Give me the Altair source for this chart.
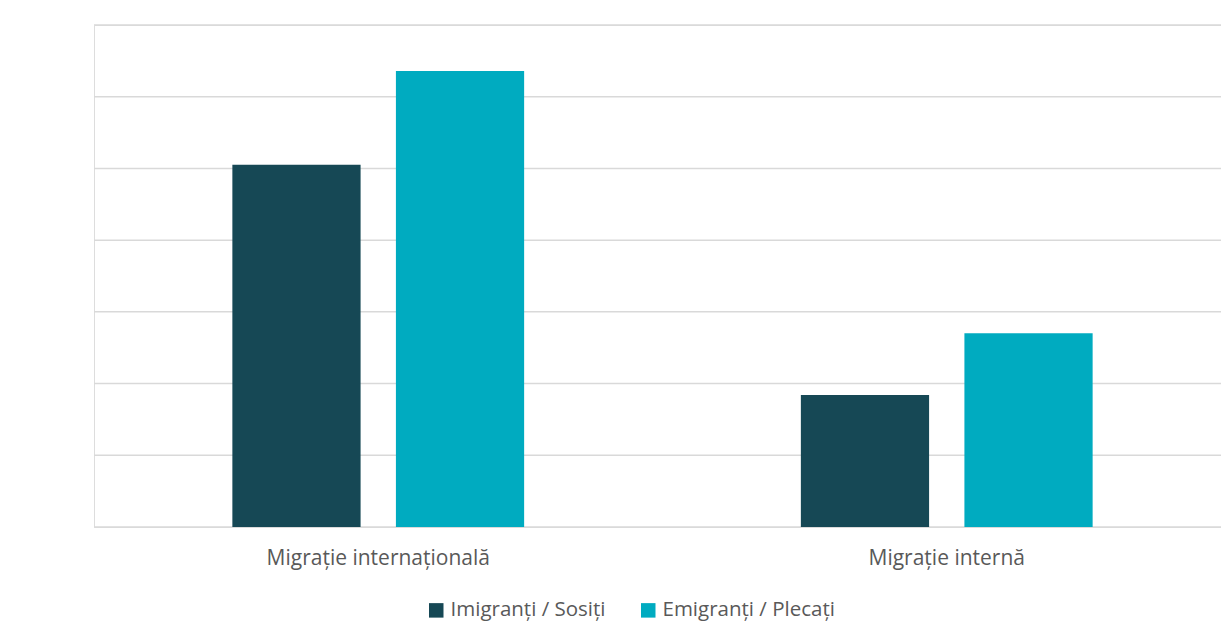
import altair as alt
import pandas as pd

# Migration flows by type
categories = ["Migrație internațională", "Migrație internă"]
series = ["Imigranți / Sosiți", "Emigranți / Plecați"]
imigranti = [25250, 9200]
emigranti = [31800, 13500]
y_ticks = [0, 5000, 10000, 15000, 20000, 25000, 30000, 35000]
colors = ["#164855", "#00ABC0"]

rows = []
for i, cat in enumerate(categories):
    rows.append({"Categorie": cat, "Serie": series[0], "Valoare": imigranti[i]})
    rows.append({"Categorie": cat, "Serie": series[1], "Valoare": emigranti[i]})
df = pd.DataFrame(rows)
grid_df = pd.DataFrame({"Valoare": y_ticks})

FONT = "Open Sans"
GREY = "#595959"

y_scale = alt.Scale(domain=[0, 35000])

# horizontal gridlines at each y tick
grid = (
    alt.Chart(grid_df)
    .mark_rule(color="#D9D9D9", strokeWidth=1.5)
    .encode(y=alt.Y("Valoare:Q", scale=y_scale, axis=None))
)

bars = (
    alt.Chart(df)
    .mark_bar()
    .encode(
        x=alt.X(
            "Categorie:N",
            sort=categories,
            title=None,
            scale=alt.Scale(range=[0, 1137], paddingInner=0, paddingOuter=0),
            axis=alt.Axis(
                labelAngle=0,
                labelFontSize=21,
                labelColor=GREY,
                labelFont=FONT,
                labelPadding=20,
                labelLimit=0,
                ticks=False,
                domain=False,
                grid=False,
            ),
        ),
        xOffset=alt.XOffset(
            "Serie:N",
            sort=series,
            scale=alt.Scale(paddingInner=0.216, paddingOuter=0.846),
        ),
        y=alt.Y(
            "Valoare:Q",
            title=None,
            scale=y_scale,
            axis=alt.Axis(
                values=y_ticks,
                format="d",
                labelFontSize=21,
                labelColor=GREY,
                labelFont=FONT,
                labelPadding=22,
                ticks=False,
                domain=False,
                grid=False,
            ),
        ),
        color=alt.Color(
            "Serie:N",
            sort=series,
            scale=alt.Scale(domain=series, range=colors),
            legend=alt.Legend(
                title=None,
                orient="none",
                direction="horizontal",
                legendX=332,
                legendY=575,
                symbolType="square",
                symbolSize=210,
                symbolStrokeWidth=0,
                labelFontSize=20.5,
                labelColor=GREY,
                labelFont=FONT,
                labelLimit=0,
                columnPadding=32,
                symbolOffset=0,
            ),
        ),
    )
)

chart = (
    alt.layer(grid, bars)
    .properties(
        width=1127,
        height=502,
        autosize=alt.AutoSizeParams(type="none"),
        padding={"left": 94, "top": 25, "right": 0, "bottom": 96},
    )
    .configure_view(stroke=None)
    .configure(background="white")
)

chart.save("out.html", embed_options={"renderer": "svg", "actions": False})
